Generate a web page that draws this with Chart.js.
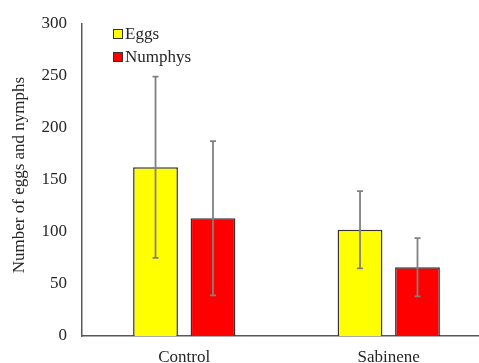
<!DOCTYPE html>
<html>
<head>
<meta charset="utf-8">
<script src="https://cdn.jsdelivr.net/npm/chart.js@4.4.1/dist/chart.umd.min.js"></script>
<style>
  html, body { margin: 0; padding: 0; background: #fff; overflow: hidden; width: 479px; height: 363px; }
  #wrap { width: 491px; height: 363px; }
</style>
</head>
<body>
<div id="wrap"><canvas id="c" width="491" height="363"></canvas></div>
<script>
// Treatments and mean counts with their error ranges
const categories = ['Control', 'Sabinene'];
const eggsMean = [162, 102];
const eggsErr = [87, 37];
const nymphsMean = [113, 66];
const nymphsErr = [74, 28];
const yTicks = [0, 50, 100, 150, 200, 250, 300];
const yTitle = 'Number of eggs and nymphs';

const serif = "'Liberation Serif', 'Times New Roman', serif";
const textColor = '#262626';

// Error bars drawn from each dataset's err array through the y scale
const errorBars = {
  id: 'errorBars',
  afterDatasetsDraw(chart) {
    const ctx = chart.ctx;
    const yScale = chart.scales.y;
    chart.data.datasets.forEach((ds, di) => {
      const meta = chart.getDatasetMeta(di);
      meta.data.forEach((bar, i) => {
        const m = ds.data[i], e = ds.err[i];
        const yTop = yScale.getPixelForValue(m + e);
        const yBot = yScale.getPixelForValue(m - e);
        ctx.save();
        ctx.strokeStyle = '#808080';
        ctx.lineWidth = 1.8;
        ctx.beginPath();
        ctx.moveTo(bar.x, yTop); ctx.lineTo(bar.x, yBot);
        ctx.moveTo(bar.x - 3, yTop); ctx.lineTo(bar.x + 3, yTop);
        ctx.moveTo(bar.x - 3, yBot); ctx.lineTo(bar.x + 3, yBot);
        ctx.stroke();
        ctx.restore();
      });
    });
  }
};

// Vertical legend inside the plot area, plus the rotated y-axis title
const annotations = {
  id: 'annotations',
  afterDraw(chart) {
    const ctx = chart.ctx;
    const x0 = 113, y0 = 34, step = 23;
    ctx.save();
    ctx.font = '17px ' + serif;
    ctx.textBaseline = 'middle';
    chart.data.datasets.forEach((ds, i) => {
      const y = y0 + i * step;
      ctx.fillStyle = ds.backgroundColor;
      ctx.fillRect(x0, y - 5, 10, 10);
      ctx.strokeStyle = '#333';
      ctx.lineWidth = 1;
      ctx.strokeRect(x0 + 0.5, y - 4.5, 9, 9);
      ctx.fillStyle = textColor;
      ctx.fillText(ds.label, x0 + 12, y + 1);
    });
    ctx.translate(20, 175);
    ctx.rotate(-Math.PI / 2);
    ctx.textAlign = 'center';
    ctx.fillText(yTitle, 0, 0);
    ctx.restore();
  }
};

new Chart(document.getElementById('c'), {
  type: 'bar',
  data: {
    labels: categories,
    datasets: [
      { label: 'Eggs', data: eggsMean, err: eggsErr, backgroundColor: '#FFFF00', borderColor: '#333333', borderWidth: 1.5 },
      { label: 'Numphys', data: nymphsMean, err: nymphsErr, backgroundColor: '#FF0000', borderColor: '#333333', borderWidth: 1.5 }
    ]
  },
  options: {
    responsive: false,
    animation: false,
    events: [],
    categoryPercentage: 0.562,
    barPercentage: 0.78,
    layout: { padding: { top: 22, left: 0, right: 0, bottom: 0 } },
    plugins: { legend: { display: false }, tooltip: { enabled: false } },
    scales: {
      x: {
        grid: { display: false, drawTicks: false },
        border: { display: true, color: '#595959', width: 1.5 },
        ticks: { color: textColor, font: { family: serif, size: 17 }, padding: 11 },
        afterFit(scale) { scale.height = 27; }
      },
      y: {
        min: 0, max: 300,
        afterBuildTicks(scale) { scale.ticks = yTicks.map(v => ({ value: v })); },
        grid: { display: false, drawTicks: false },
        border: { display: true, color: '#595959', width: 1.5 },
        ticks: { color: textColor, font: { family: serif, size: 17, lineHeight: 1 }, padding: 15 },
        afterFit(scale) { scale.width = 82; }
      }
    }
  },
  plugins: [errorBars, annotations]
});
</script>
</body>
</html>
